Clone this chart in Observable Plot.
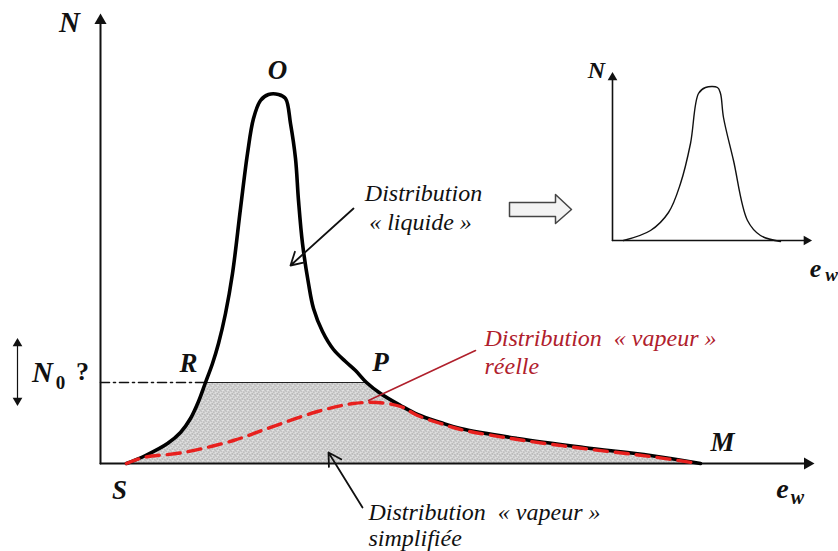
<!DOCTYPE html>
<html>
<head>
<meta charset="utf-8">
<script src="https://cdn.jsdelivr.net/npm/d3@7"></script>
<script src="https://cdn.jsdelivr.net/npm/@observablehq/plot@0.6"></script>
<style>
  html, body { margin: 0; padding: 0; background: #fff; }
  #chart { width: 838px; height: 551px; }
</style>
</head>
<body>
<div id="chart"></div>
<script>
// ---- Data (e_w, N) in schematic units, origin at the axes' intersection ----
// Main measured distribution (black curve S - R - O - P - M)
const mainEw = [26, 45, 67, 80, 90, 98, 105, 112, 118, 125, 132, 140, 147, 153, 160, 168, 178, 185, 190, 195, 198, 202, 208, 213, 222, 233, 245, 255, 266, 280, 300, 317, 340, 360, 417, 483, 550, 600];
const mainN  = [0, 8, 20, 31, 45, 62, 81, 100, 120, 150, 190, 255, 310, 345, 363, 369, 369, 365, 340, 305, 263, 220, 180, 155, 132, 114, 102, 93, 81, 70, 58, 49, 41, 35, 25, 16, 8, 0];

// Real "vapeur" distribution (red dashed)
const vapEw = [26, 43, 83, 133, 167, 217, 253, 277, 300, 317, 340, 360, 417, 483, 550, 598];
const vapN  = [0, 6, 11, 23, 35, 52, 60, 61, 57, 48, 40, 34, 24, 15, 7, 0];

// Simplified "vapeur" distribution (shaded region below N0)
const N0 = 81;
const simpEw = [105, 266, 280, 300, 317, 340, 360, 417, 483, 550, 600, 26, 45, 67, 80, 90, 98, 105];
const simpN  = [81, 81, 70, 58, 49, 41, 35, 25, 16, 8, 0, 0, 8, 20, 31, 45, 62, 81];

// Inset: "liquide" distribution alone
const insetEw = [523, 550, 568, 580, 590, 598, 605, 617, 620, 623, 633, 647, 660, 680];
const insetN  = [223, 233, 251, 280, 320, 370, 376, 376, 370, 346, 303, 243, 228, 222];

// Hollow block arrow outline
const blockEw = [409, 455, 455, 471, 455, 455, 409, 409];
const blockN  = [261, 261, 269, 254, 240, 247, 247, 261];

// Text
const pointLabels = ["O", "R", "P", "M", "S"];
const liquideLabel = ["Distribution", "« liquide »"];
const vapeurReelleLabel = ["Distribution  « vapeur »", "réelle"];
const vapeurSimpLabel = ["Distribution  « vapeur »", "simplifiée"];

const zip = (a, b) => a.map((x, i) => ({ew: x, N: b[i]}));
const mainData = zip(mainEw, mainN);
const vapData = zip(vapEw, vapN);
const simpData = zip(simpEw, simpN);
const insetData = zip(insetEw, insetN);
const blockData = zip(blockEw, blockN);

const serif = "Liberation Serif, DejaVu Serif, serif";
const boldIt = {fontFamily: serif, fontWeight: "bold", fontStyle: "italic", fill: "#111"};
const it = {fontFamily: serif, fontStyle: "italic", fill: "#111", fontSize: 24};
const red = "#e8201e";
const darkRed = "#b0202c";

const plot = Plot.plot({
  width: 838,
  height: 551,
  margin: 0,
  x: {domain: [-100, 738], axis: null},
  y: {domain: [-88, 463], axis: null},
  style: {background: "#fff", overflow: "visible"},
  marks: [
    // shaded simplified vapour distribution
    Plot.line(simpData, {x: "ew", y: "N", fill: "url(#stipple)", stroke: "none", curve: "linear"}),
    // N0 level: dash-dot from axis to R, thin solid from R to P
    Plot.line([{ew: 0, N: N0}, {ew: simpEw[0], N: N0}], {x: "ew", y: "N", stroke: "#111", strokeWidth: 1.6, strokeDasharray: "9,4,2,4"}),
    Plot.line([{ew: simpEw[0], N: N0}, {ew: simpEw[1], N: N0}], {x: "ew", y: "N", stroke: "#222", strokeWidth: 1.2}),
    // axes
    Plot.line([{ew: 0, N: 0}, {ew: 0, N: 442}], {x: "ew", y: "N", stroke: "#111", strokeWidth: 2}),
    Plot.line([{ew: 0, N: 0}, {ew: 706, N: 0}], {x: "ew", y: "N", stroke: "#111", strokeWidth: 2}),
    Plot.dot([{ew: 0, N: 443}], {x: "ew", y: "N", symbol: "triangle", r: 4.5, fill: "#111", stroke: "none"}),
    Plot.dot([{ew: 707, N: 0}], {x: "ew", y: "N", symbol: "triangle", r: 4.5, fill: "#111", stroke: "none", rotate: 90}),
    // main curve
    Plot.line(mainData, {x: "ew", y: "N", stroke: "#000", strokeWidth: 3.6, curve: "catmull-rom", strokeLinejoin: "round", strokeLinecap: "round"}),
    // real vapour distribution
    Plot.line(vapData, {x: "ew", y: "N", stroke: red, strokeWidth: 3.4, strokeDasharray: "13,8", curve: "catmull-rom"}),
    // red leader
    Plot.line([{ew: 375, N: 113}, {ew: 268, N: 63}], {x: "ew", y: "N", stroke: darkRed, strokeWidth: 1.6}),
    // black leader arrows
    Plot.arrow([{x1: 253, y1: 255, x2: 190, y2: 198}], {x1: "x1", y1: "y1", x2: "x2", y2: "y2", stroke: "#111", strokeWidth: 1.8, headLength: 12}),
    Plot.arrow([{x1: 262, y1: -44, x2: 228, y2: 11}], {x1: "x1", y1: "y1", x2: "x2", y2: "y2", stroke: "#111", strokeWidth: 1.8, headLength: 12}),
    // N0 double arrow
    Plot.line([{ew: -83, N: 123}, {ew: -83, N: 62}], {x: "ew", y: "N", stroke: "#111", strokeWidth: 1.2}),
    Plot.dot([{ew: -83, N: 120}], {x: "ew", y: "N", symbol: "triangle", r: 3.6, fill: "#111", stroke: "none"}),
    Plot.dot([{ew: -83, N: 63}], {x: "ew", y: "N", symbol: "triangle", r: 3.6, fill: "#111", stroke: "none", rotate: 180}),
    // hollow block arrow
    Plot.line(blockData, {x: "ew", y: "N", fill: "#f3f3f3", stroke: "#444", strokeWidth: 1.5, curve: "linear"}),
    // inset axes and curve
    Plot.line([{ew: 512, N: 223}, {ew: 512, N: 385}], {x: "ew", y: "N", stroke: "#111", strokeWidth: 1.6}),
    Plot.line([{ew: 512, N: 223}, {ew: 705, N: 223}], {x: "ew", y: "N", stroke: "#111", strokeWidth: 1.6}),
    Plot.dot([{ew: 512, N: 386}], {x: "ew", y: "N", symbol: "triangle", r: 3.6, fill: "#111", stroke: "none"}),
    Plot.dot([{ew: 706, N: 223}], {x: "ew", y: "N", symbol: "triangle", r: 3.6, fill: "#111", stroke: "none", rotate: 90}),
    Plot.line(insetData, {x: "ew", y: "N", stroke: "#111", strokeWidth: 1.4, curve: "catmull-rom"}),
    // axis labels
    Plot.text(["N"], {x: -31, y: 441, text: d => d, fontSize: 29, ...boldIt}),
    Plot.text(["e"], {x: 682, y: -26, text: d => d, fontSize: 28, ...boldIt}),
    Plot.text(["w"], {x: 697, y: -34, text: d => d, fontSize: 20, ...boldIt}),
    Plot.text(["N"], {x: 496, y: 393, text: d => d, fontSize: 24, ...boldIt}),
    Plot.text(["e"], {x: 715, y: 195, text: d => d, fontSize: 26, ...boldIt}),
    Plot.text(["w"], {x: 731, y: 189, text: d => d, fontSize: 19, ...boldIt}),
    // N0 ?
    Plot.text(["N"], {x: -58, y: 91, text: d => d, fontSize: 29, ...boldIt}),
    Plot.text(["0"], {x: -40, y: 81, text: d => d, fontSize: 19, fontFamily: serif, fontWeight: "bold", fill: "#111"}),
    Plot.text(["?"], {x: -18, y: 92, text: d => d, fontSize: 26, fontFamily: serif, fontWeight: "bold", fill: "#111"}),
    // point labels
    Plot.text(pointLabels, {
      x: [177, 88, 280, 622, 19],
      y: [393, 100, 101, 21, -27],
      text: d => d, fontSize: 27, ...boldIt
    }),
    // annotations
    Plot.text(liquideLabel, {x: [323, 320], y: [270, 241], text: d => d, ...it}),
    Plot.text(vapeurReelleLabel, {x: [384, 384], y: [125, 97], text: d => d, textAnchor: "start", ...it, fill: darkRed}),
    Plot.text(vapeurSimpLabel, {x: [268, 268], y: [-49, -75], text: d => d, textAnchor: "start", ...it})
  ]
});

// stipple pattern for the simplified vapour distribution
const svg = d3.select(plot);
const defs = svg.insert("defs", ":first-child");
const pat = defs.append("pattern")
  .attr("id", "stipple").attr("patternUnits", "userSpaceOnUse")
  .attr("width", 5).attr("height", 5);
pat.append("rect").attr("width", 5).attr("height", 5).attr("fill", "#e9e9e9");
[[0.8, 0.8], [3.3, 1.6], [1.8, 3.4], [4.3, 4.2]].forEach(([cx, cy]) =>
  pat.append("circle").attr("cx", cx).attr("cy", cy).attr("r", 0.65).attr("fill", "#555"));

document.getElementById("chart").appendChild(plot);
</script>
</body>
</html>
